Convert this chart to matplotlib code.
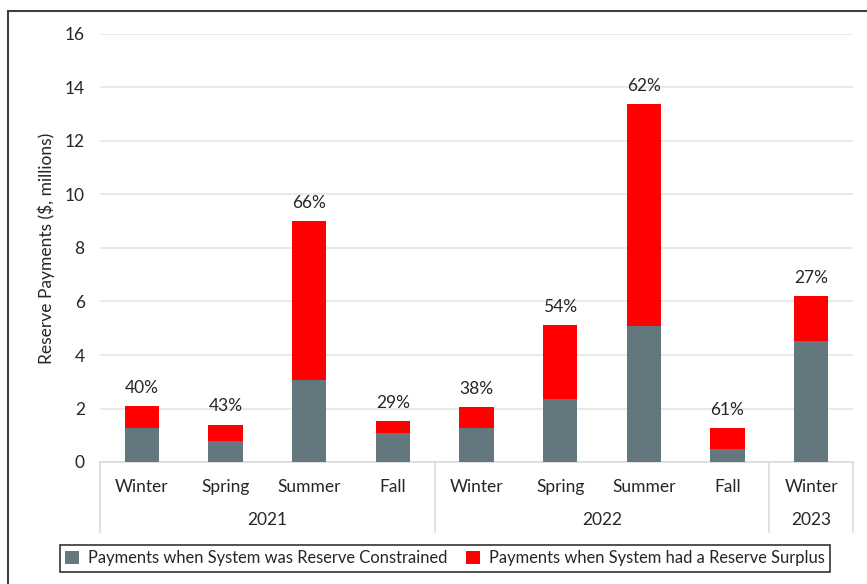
import matplotlib
matplotlib.use("Agg")
import matplotlib.pyplot as plt
import matplotlib.transforms as mtransforms
from matplotlib.patches import Rectangle
from matplotlib.lines import Line2D

plt.rcParams['font.family'] = ['Lato', 'DejaVu Sans']

seasons = ["Winter", "Spring", "Summer", "Fall",
           "Winter", "Spring", "Summer", "Fall", "Winter"]
years = ["2021", "2022", "2023"]
year_spans = [(0, 3), (4, 7), (8, 8)]
constrained = [1.26, 0.80, 3.06, 1.09, 1.28, 2.36, 5.10, 0.50, 4.53]
surplus = [0.84, 0.60, 5.94, 0.44, 0.78, 2.76, 8.28, 0.78, 1.67]

GRAY = "#64767e"
RED = "#ff0000"
TXT = "#262626"
FS = 12.5

W, H = 867, 584
fig = plt.figure(figsize=(W / 100, H / 100), dpi=100)
ax = fig.add_axes([100 / W, (H - 462) / H, (853 - 100) / W, (462 - 34) / H])

x = list(range(len(seasons)))
ax.bar(x, constrained, width=0.41, color=GRAY, zorder=3,
       label="Payments when System was Reserve Constrained")
ax.bar(x, surplus, width=0.41, bottom=constrained, color=RED, zorder=3,
       label="Payments when System had a Reserve Surplus")

for xi, c, s in zip(x, constrained, surplus):
    total = c + s
    ax.annotate(f"{round(100 * s / total):.0f}%", (xi, total),
                xytext=(0, 9.5), textcoords="offset points",
                ha="center", va="baseline", fontsize=FS, color=TXT)

ax.set_xlim(-0.5, len(seasons) - 0.5)
ax.set_ylim(0, 16)
ax.set_yticks(range(0, 17, 2))
ax.tick_params(axis="y", length=0, pad=11, labelsize=FS, labelcolor=TXT)
ax.set_xticks([])
ax.grid(axis="y", color="#e3e3e3", linewidth=1.1, zorder=0)
ax.set_axisbelow(True)
for side in ["top", "right", "left"]:
    ax.spines[side].set_visible(False)
ax.spines["bottom"].set_color("#d9d9d9")
ax.spines["bottom"].set_linewidth(1.1)
ax.set_ylabel("Reserve Payments ($, millions)", fontsize=FS, color=TXT)
ax.yaxis.set_label_coords(-45 / 753, 0.5)

# two-level category axis: seasons, then years, with separators
tr = mtransforms.blended_transform_factory(ax.transData, fig.transFigure)
y_top = (H - 462) / H
y_bot = (H - 532) / H
for xs in [-0.5, 3.5, 7.5, 8.5]:
    fig.add_artist(Line2D([xs, xs], [y_bot, y_top], transform=tr,
                          color="#d9d9d9", linewidth=1.1))
for xi, name in zip(x, seasons):
    fig.text(xi, (H - 487) / H, name, transform=tr, ha="center",
             va="center", fontsize=FS, color=TXT)
for (a, b), yr in zip(year_spans, years):
    fig.text((a + b) / 2, (H - 520) / H, yr, transform=tr, ha="center",
             va="center", fontsize=FS, color=TXT)

leg = fig.legend(loc="center", bbox_to_anchor=((55 + 835) / 2 / W, (H - 558.5) / H),
                 ncol=2, frameon=True, fancybox=False, fontsize=11.9,
                 handlelength=0.85, handleheight=0.85, handletextpad=0.55,
                 columnspacing=1.1, borderpad=0.32)
leg.get_frame().set_edgecolor("#000000")
leg.get_frame().set_linewidth(1.2)
for t in leg.get_texts():
    t.set_color(TXT)

# outer chart frame
fig.add_artist(Rectangle((8 / W, -0.01), 1.0, (H - 11) / H + 0.01,
                         transform=fig.transFigure, fill=False,
                         edgecolor="#404040", linewidth=1.5))

fig.savefig("out.png", dpi=100)
